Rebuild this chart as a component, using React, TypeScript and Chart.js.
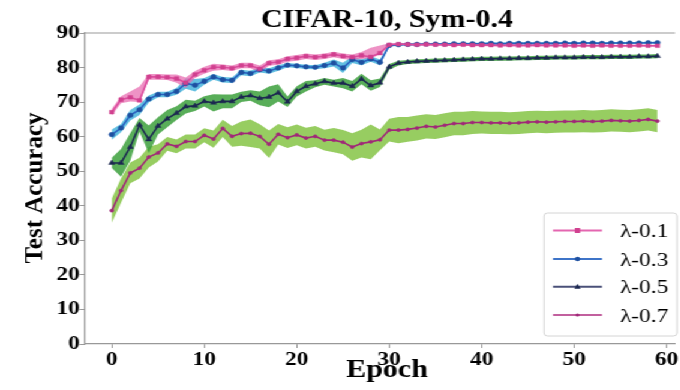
import React, { useEffect, useRef } from "react";
import { Chart, registerables } from "chart.js";
Chart.register(...registerables);

const epochs = [0,1,2,3,4,5,6,7,8,9,10,11,12,13,14,15,16,17,18,19,20,21,22,23,24,25,26,27,28,29,30,31,32,33,34,35,36,37,38,39,40,41,42,43,44,45,46,47,48,49,50,51,52,53,54,55,56,57,58,59];
const xTicks = [0, 10, 20, 30, 40, 50, 60];
const yTicks = [0, 10, 20, 30, 40, 50, 60, 70, 80, 90];
const seriesNames = ["λ-0.1", "λ-0.3", "λ-0.5", "λ-0.7"];

const lam01 = [67.1,70.7,71.4,70.5,77.3,77.3,77.2,76.8,75.6,78.0,79.2,80.1,80.1,79.8,80.6,80.6,79.6,81.3,81.6,82.5,82.8,83.3,83.0,83.3,83.8,83.3,83.0,83.5,83.1,84.2,86.6,86.8,86.7,86.6,86.7,86.6,86.6,86.5,86.6,86.5,86.5,86.5,86.4,86.5,86.4,86.4,86.5,86.4,86.4,86.4,86.3,86.4,86.3,86.4,86.3,86.3,86.3,86.4,86.3,86.3];
const lam01Up = [1.0,1.0,1.7,4.0,0.8,0.8,0.8,1.2,1.5,1.0,1.0,1.0,0.8,0.8,0.8,0.8,1.0,0.8,0.8,0.8,0.8,0.8,0.8,0.8,0.8,0.8,0.8,1.0,2.6,2.2,0.4,0.3,0.3,0.3,0.3,0.3,0.3,0.3,0.3,0.3,0.3,0.3,0.3,0.3,0.3,0.3,0.3,0.3,0.3,0.3,0.3,0.3,0.3,0.3,0.3,0.3,0.3,0.3,0.3,0.3];
const lam01Down = [1.0,1.0,1.2,0.5,0.8,0.8,0.8,1.2,1.5,1.0,1.0,1.0,0.8,0.8,0.8,0.8,1.0,0.8,0.8,0.8,0.8,0.8,0.8,0.8,0.8,0.8,0.8,1.0,0.4,0.4,0.4,0.3,0.3,0.3,0.3,0.3,0.3,0.3,0.3,0.3,0.3,0.3,0.3,0.3,0.3,0.3,0.3,0.3,0.3,0.3,0.3,0.3,0.3,0.3,0.3,0.3,0.3,0.3,0.3,0.3];

const lam03 = [60.6,62.5,66.2,67.8,70.9,72.2,72.2,73.1,75.4,74.9,76.0,77.3,76.5,76.3,78.6,78.3,79.4,79.0,79.9,80.7,80.5,80.2,80.1,80.6,81.3,79.9,82.3,81.5,82.5,81.5,86.4,86.6,86.7,86.7,86.8,86.8,86.8,86.9,86.9,86.9,86.9,87.0,86.9,87.0,87.0,87.0,87.0,87.0,87.0,87.1,87.0,87.1,87.1,87.0,87.1,87.1,87.1,87.1,87.2,87.2];
const lam03Spread = [1.5,1.2,1.5,1.5,1.0,0.8,0.8,1.0,1.5,1.8,1.0,0.8,0.8,0.8,0.8,0.8,0.8,0.8,0.8,0.6,0.6,0.6,0.6,0.8,1.0,1.5,1.0,0.8,0.8,0.8,0.4,0.3,0.3,0.3,0.3,0.3,0.3,0.3,0.3,0.3,0.3,0.3,0.3,0.3,0.3,0.3,0.3,0.3,0.3,0.3,0.3,0.3,0.3,0.3,0.3,0.3,0.3,0.3,0.3,0.3];

const lam05 = [52.4,52.4,57.0,63.4,59.2,63.1,65.2,66.8,68.7,68.9,70.2,69.8,70.2,70.2,71.5,71.9,71.1,71.5,72.7,70.1,73.1,74.6,75.3,76.0,75.5,75.5,74.6,76.7,74.8,75.6,80.2,81.3,81.6,81.8,81.9,82.0,82.1,82.2,82.3,82.4,82.5,82.5,82.6,82.6,82.7,82.7,82.8,82.8,82.9,82.9,82.9,83.0,83.0,83.0,83.1,83.1,83.1,83.2,83.2,83.3];
const lam05Spread = [1.5,4.0,4.0,2.0,4.0,2.5,2.5,2.0,2.0,1.5,1.5,2.5,2.0,2.0,1.5,1.5,2.0,3.0,2.5,1.5,1.5,1.5,1.0,1.0,1.0,1.5,1.5,1.5,1.5,1.2,0.8,0.7,0.6,0.6,0.6,0.6,0.6,0.6,0.6,0.6,0.6,0.6,0.6,0.6,0.6,0.6,0.6,0.6,0.6,0.6,0.6,0.6,0.6,0.6,0.6,0.6,0.6,0.6,0.6,0.6];

const lam07 = [38.6,44.4,49.5,50.9,54.1,55.3,57.9,57.2,58.6,58.6,60.4,59.3,62.4,60.1,60.9,61.0,60.1,57.8,60.7,59.7,60.5,59.6,60.1,59.0,59.0,58.4,57.0,58.0,58.5,59.1,61.9,61.9,62.1,62.5,63.0,62.8,63.3,63.8,63.8,64.1,64.1,64.0,64.0,63.9,64.0,64.2,64.3,64.2,64.3,64.4,64.4,64.5,64.4,64.5,64.7,64.6,64.5,64.7,65.0,64.5];
const lam07Spread = [3.5,3.5,3.0,3.0,3.0,2.5,2.0,2.0,2.0,2.0,2.0,2.5,2.5,3.0,3.5,4.0,3.5,4.0,3.0,3.0,3.0,3.0,3.0,3.0,3.5,3.5,4.0,4.0,5.0,3.0,3.3,3.8,3.6,3.6,3.5,3.5,3.5,3.4,3.4,3.3,3.2,3.2,3.2,3.2,3.2,3.2,3.2,3.2,3.2,3.2,3.2,3.2,3.2,3.2,3.2,3.2,3.2,3.2,3.2,3.2];

const SX = 1.2;
const W = 567;
const H = 390;
const SERIF = "'Liberation Serif', 'Times New Roman', serif";

const lineColors = ["#dc4c9e", "#2a62c0", "#1c2850", "#a02878"];
const markerColors = ["#d0408f", "#1e50a0", "#1c2850", "#a02878"];
const bandColors = ["rgba(232,110,178,0.75)", "rgba(70,180,220,0.85)", "rgba(60,160,60,0.85)", "rgba(140,200,80,0.9)"];
const legendLineColors = ["#e466b0", "#3e74c8", "#4a5078", "#c2609e"];
const pointStyles = ["rect", "circle", "triangle", "circle"];
const pointRadii = [2.6, 2.3, 2.9, 1.6];

const pts = (arr: number[]) => epochs.map((e, i) => ({ x: e, y: arr[i] }));
const ptsOff = (arr: number[], off: number[], sign: number) =>
  epochs.map((e, i) => ({ x: e, y: arr[i] + sign * off[i] }));

const decor = {
  id: "decor",
  afterDraw(chart: any) {
    const { ctx, chartArea } = chart;
    ctx.save();
    // top spine
    ctx.strokeStyle = "#999";
    ctx.lineWidth = 1.2;
    ctx.beginPath();
    ctx.moveTo(chartArea.left, chartArea.top);
    ctx.lineTo(chartArea.right, chartArea.top);
    ctx.stroke();

    ctx.fillStyle = "#000";
    ctx.textAlign = "center";
    ctx.textBaseline = "alphabetic";
    ctx.font = `bold 25px ${SERIF}`;
    ctx.fillText("CIFAR-10, Sym-0.4", 387 / SX, 26.5);
    ctx.font = `bold 25px ${SERIF}`;
    ctx.fillText("Epoch", 387 / SX, 377);

    // rotated y title drawn in un-stretched space
    ctx.save();
    ctx.scale(1 / SX, 1);
    ctx.translate(42, 188);
    ctx.rotate(-Math.PI / 2);
    ctx.font = `bold 25px ${SERIF}`;
    ctx.fillText("Test Accuracy", 0, 0);
    ctx.restore();

    // legend
    const bx = 544 / SX, by = 213, bw = (677 - 544) / SX, bh = 123;
    ctx.fillStyle = "rgba(255,255,255,0.85)";
    ctx.strokeStyle = "#d4d4d4";
    ctx.lineWidth = 1;
    ctx.beginPath();
    ctx.roundRect(bx, by, bw, bh, 3);
    ctx.fill();
    ctx.stroke();
    const l0 = 553 / SX, l1 = 602 / SX, mx = 577.5 / SX, tx = 620 / SX;
    const rows = [230.5, 259, 286.8, 315];
    ctx.textAlign = "left";
    ctx.font = `19.5px ${SERIF}`;
    seriesNames.forEach((name, i) => {
      const cy = rows[i];
      ctx.strokeStyle = legendLineColors[i];
      ctx.lineWidth = 2;
      ctx.beginPath();
      ctx.moveTo(l0, cy);
      ctx.lineTo(l1, cy);
      ctx.stroke();
      ctx.fillStyle = markerColors[i];
      ctx.beginPath();
      if (i === 0) {
        ctx.rect(mx - 2.2, cy - 2.5, 4.4, 5);
      } else if (i === 2) {
        ctx.moveTo(mx, cy - 3);
        ctx.lineTo(mx + 2.6, cy + 2);
        ctx.lineTo(mx - 2.6, cy + 2);
        ctx.closePath();
      } else {
        ctx.arc(mx, cy, i === 3 ? 1.6 : 2.2, 0, Math.PI * 2);
      }
      ctx.fill();
      ctx.fillStyle = "#000";
      ctx.fillText(name, tx, cy + 6.5);
    });
    ctx.restore();
  },
};

export default function App() {
  const ref = useRef<HTMLCanvasElement>(null);
  useEffect(() => {
    if (!ref.current) return;
    const means = [lam01, lam03, lam05, lam07];
    const meanSets = means.map((m, i) => ({
      label: seriesNames[i],
      data: pts(m),
      borderColor: lineColors[i],
      backgroundColor: markerColors[i],
      pointBackgroundColor: markerColors[i],
      pointBorderColor: markerColors[i],
      pointStyle: pointStyles[i],
      pointRadius: pointRadii[i],
      pointBorderWidth: 0.5,
      borderWidth: 1.6,
      fill: false,
      tension: 0,
    }));
    const ups = [lam01Up, lam03Spread, lam05Spread, lam07Spread];
    const downs = [lam01Down, lam03Spread, lam05Spread, lam07Spread];
    const bandSets: any[] = [];
    means.forEach((m, i) => {
      bandSets.push({
        label: "lo" + i,
        data: ptsOff(m, downs[i], -1),
        borderColor: "rgba(0,0,0,0)",
        borderWidth: 0,
        pointRadius: 0,
        fill: false,
        tension: 0,
      });
      bandSets.push({
        label: "hi" + i,
        data: ptsOff(m, ups[i], 1),
        borderColor: "rgba(0,0,0,0)",
        borderWidth: 0,
        pointRadius: 0,
        backgroundColor: bandColors[i],
        fill: "-1",
        tension: 0,
      });
    });
    const tickFont = { family: SERIF, weight: "bold" as const, size: 19.5 };
    const chart = new Chart(ref.current, {
      type: "line",
      data: { datasets: [...meanSets, ...bandSets] },
      options: {
        responsive: false,
        animation: false,
        devicePixelRatio: 1,
        layout: { padding: { top: 33, left: 0, right: 0, bottom: 0 } },
        plugins: {
          legend: { display: false },
          title: { display: false },
          tooltip: { enabled: false },
          filler: { drawTime: "beforeDatasetsDraw" },
        },
        scales: {
          x: {
            type: "linear",
            min: -2.95,
            max: 60.9,
            afterBuildTicks: (s: any) => {
              s.ticks = xTicks.map((v) => ({ value: v }));
            },
            afterFit: (s: any) => {
              s.height = 46;
              s.paddingLeft = 0;
              s.paddingRight = 0;
            },
            ticks: { font: tickFont, color: "#000", padding: 0, maxRotation: 0, autoSkip: false },
            grid: { display: true, drawOnChartArea: false, drawTicks: true, tickLength: 4, color: "#999" },
            border: { display: true, color: "#999", width: 1.2 },
          },
          y: {
            min: 0,
            max: 90,
            afterBuildTicks: (s: any) => {
              s.ticks = yTicks.map((v) => ({ value: v }));
            },
            afterFit: (s: any) => {
              s.width = 84.5 / SX;
              s.paddingTop = 0;
              s.paddingBottom = 0;
            },
            ticks: { font: tickFont, color: "#000", padding: 0, autoSkip: false },
            grid: { display: true, drawOnChartArea: false, drawTicks: true, tickLength: 4, color: "#999" },
            border: { display: true, color: "#999", width: 1.2 },
          },
        },
      },
      plugins: [decor],
    });
    return () => chart.destroy();
  }, []);
  return (
    <div
      style={{
        position: "absolute",
        left: 0,
        top: 0,
        width: W,
        height: H,
        transform: `scaleX(${SX})`,
        transformOrigin: "0 0",
        background: "#fff",
      }}
    >
      <canvas ref={ref} width={W} height={H} />
    </div>
  );
}
